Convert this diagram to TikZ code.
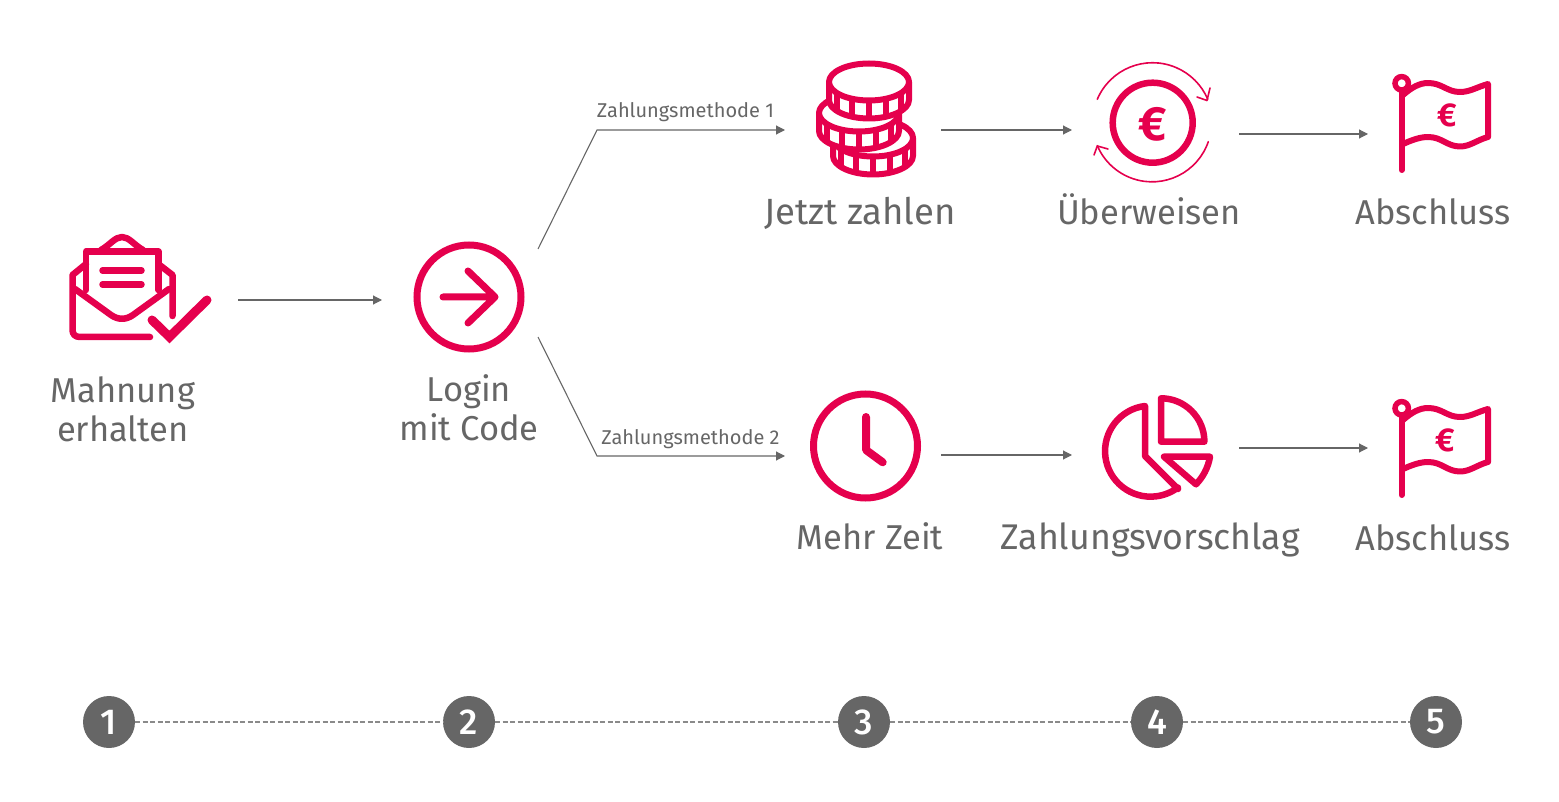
\documentclass[tikz,border=0pt]{standalone}
\usepackage{fontspec}
\setmainfont{Fira Sans}[BoldFont=* Medium]
\newfontfamily\eurofont{Fira Sans}[UprightFont=* Bold]
\usetikzlibrary{arrows.meta}
\definecolor{brandred}{HTML}{E5004D}
\definecolor{txtgray}{HTML}{666666}
\definecolor{dashgray}{HTML}{8A8A8A}
\begin{document}
\begin{tikzpicture}[
  x=1pt, y=-1pt,
  icon/.style={draw=brandred, line width=6.5pt, line cap=round, line join=round},
  thinicon/.style={draw=brandred, line width=1.6pt, line cap=round, line join=round},
  flow/.style={draw=txtgray, line width=1.1pt, -{Triangle[length=9pt,width=9pt]}},
  steplabel/.style={text=txtgray, font=\fontsize{34.5}{39}\selectfont, align=center, inner sep=0pt},
  baselabel/.style={steplabel, anchor=base},
  methodlabel/.style={text=txtgray, font=\fontsize{20}{24}\selectfont, inner sep=0pt, anchor=base},
  eurosign/.style={text=brandred, inner sep=0pt},
  stepnum/.style={circle, fill=txtgray, text=white, minimum size=52pt, inner sep=0pt, font=\bfseries\fontsize{36}{36}\selectfont},
  timeline/.style={draw=dashgray, line width=1.1pt, dash pattern=on 5pt off 2.5pt},
]
  \useasboundingbox (0,0) rectangle (1559,802);

  % envelope
  \draw[icon] (150,337) -- (80,337) .. controls (75,337) and (72.5,334) .. (72.5,330) -- (72.5,275) -- (86,264);
  \draw[icon] (172.5,316) -- (172.5,275) -- (158.3,264);
  \draw[icon] (101,250) .. controls (110,245) and (115,237) .. (122,237) .. controls (129,237) and (134,245) .. (143,250);
  \draw[icon] (86,290) -- (86,251.5) -- (158.3,251.5) -- (158.3,290);
  \draw[icon] (75,289) -- (111,315) .. controls (118,320) and (126,320) .. (133,315) -- (169,289);
  \draw[icon] (102.5,270.5) -- (141.5,270.5) (102.5,284.5) -- (141.5,284.5);
  \draw[draw=brandred, line width=9pt, line cap=round] (152,320) -- (169.5,337) -- (207,300);

  % login
  \node[circle, draw=brandred, line width=7pt, minimum size=104pt, inner sep=0pt] (login) at (469,297) {};
  \draw[icon, line width=7pt] (443,297) -- (495,297) (468,271) -- (495,297) -- (468,323);

  % coins
  \foreach \cx/\cy in {873/138, 859/113, 869/82} {
    \draw[icon, line width=6pt, fill=white] (\cx-40,\cy) -- (\cx-40,\cy+18)
      .. controls (\cx-40,\cy+28) and (\cx-22,\cy+36.5) .. (\cx,\cy+36.5)
      .. controls (\cx+22,\cy+36.5) and (\cx+40,\cy+28) .. (\cx+40,\cy+18) -- (\cx+40,\cy);
    \foreach \a in {38,65,90,115,142}
      \draw[icon, line width=6pt, line cap=butt] ({\cx+40*cos(\a)},{\cy+18.5*sin(\a)}) -- ({\cx+40*cos(\a)},{\cy+18+18.5*sin(\a)});
    \draw[icon, line width=6pt, fill=white] (\cx,\cy) ellipse [x radius=40pt, y radius=18.5pt];
  }

  % euro with arrows
  \node[circle, draw=brandred, line width=6.5pt, minimum size=80pt, inner sep=0pt] (eurocoin) at (1152.7,122.7) {};
  \node[eurosign, font=\eurofont\fontsize{48}{48}\selectfont] (eurotxt) at (1152.5,124) {€};
  \draw[thinicon] (1097.3,99.3) arc [start angle=157, end angle=23, radius=60pt];
  \draw[thinicon] (1197,97) -- (1207,100.5) -- (1210,88);
  \draw[thinicon] (1208.3,141.7) arc [start angle=-19, end angle=-157, radius=59.5pt];
  \draw[thinicon] (1094,155) -- (1097.3,146) -- (1108,149);

  % flags
  \foreach \fy/\ex/\nm in {0/1447/top, 325/1445/bot} {
    \begin{scope}[yshift=-\fy pt]
      \draw[draw=brandred, line width=5.5pt] (1401.7,83.3) circle [radius=6.7pt];
      \draw[icon, line width=6pt] (1401.7,92) -- (1401.7,170);
      \draw[icon, line width=6pt] (1403,95) .. controls (1412,87) and (1420,83) .. (1428,83)
        .. controls (1442,83) and (1447,92) .. (1460,92)
        .. controls (1470,92) and (1477,87) .. (1488,84) -- (1488,137)
        .. controls (1477,140) and (1470,146.5) .. (1460,146.5)
        .. controls (1447,146.5) and (1442,137) .. (1428,137)
        .. controls (1420,137) and (1412,140) .. (1403,144);
    \end{scope}
    \node[eurosign, font=\eurofont\fontsize{33}{33}\selectfont] (euro\nm) at (\ex,115+\fy) {€};
  }

  % clock
  \node[circle, draw=brandred, line width=7pt, minimum size=104pt, inner sep=0pt] (clock) at (865.5,446) {};
  \draw[icon, line width=8pt] (866,417) -- (866,450) -- (882.7,462.3);

  % pie
  \draw[icon] (1178,489) -- (1145,456) -- (1145,406) arc [start angle=97, end angle=307, radius=45.5pt];
  \draw[icon] (1161,441.7) -- (1161,398.3) arc [start angle=90, end angle=0, radius=43.4pt] -- cycle;
  \draw[icon] (1164,456.7) -- (1210,456.7) .. controls (1208,468) and (1203,477) .. (1196,484.3) -- cycle;

  % labels
  \node[steplabel] (lmahnung) at (123,409) {Mahnung\\erhalten};
  \node[steplabel] (llogin) at (469,408) {Login\\mit Code};
  \node[baselabel, font=\fontsize{36.5}{39}\selectfont] (ljetzt) at (860,225) {Jetzt zahlen};
  \node[baselabel] (luber) at (1149,225) {Überweisen};
  \node[baselabel] (labs1) at (1433,225) {Abschluss};
  \node[baselabel] (lmehr) at (870,549) {Mehr Zeit};
  \node[baselabel, font=\fontsize{35.7}{39}\selectfont] (lvor) at (1150,549) {Zahlungsvorschlag};
  \node[baselabel] (labs2) at (1433,550) {Abschluss};
  \node[methodlabel] (lmeth1) at (685.5,118) {Zahlungsmethode 1};
  \node[methodlabel] (lmeth2) at (690.5,444) {Zahlungsmethode 2};

  % connectors
  \coordinate (mailout) at (238,300);
  \coordinate (loginin) at (382,300);
  \coordinate (upstart) at (538,249);
  \coordinate (upbend) at (597,130);
  \coordinate (upend) at (785,130);
  \coordinate (downstart) at (538,337);
  \coordinate (downbend) at (597,456);
  \coordinate (downend) at (785,456);
  \coordinate (coinsout) at (941,130);
  \coordinate (euroin) at (1072,130);
  \coordinate (euroout) at (1239,134);
  \coordinate (flagin) at (1368,134);
  \coordinate (clockout) at (941,455);
  \coordinate (piein) at (1072,455);
  \coordinate (pieout) at (1239,448);
  \coordinate (flagtwoin) at (1368,448);
  \draw[flow] (mailout) -- (loginin);
  \draw[flow] (upstart) -- (upbend) -- (upend);
  \draw[flow] (downstart) -- (downbend) -- (downend);
  \draw[flow] (coinsout) -- (euroin);
  \draw[flow] (euroout) -- (flagin);
  \draw[flow] (clockout) -- (piein);
  \draw[flow] (pieout) -- (flagtwoin);

  % steps
  \node[stepnum] (s1) at (109,722) {1};
  \node[stepnum] (s2) at (469,722) {2};
  \node[stepnum] (s3) at (864,722) {3};
  \node[stepnum] (s4) at (1157,722) {4};
  \node[stepnum] (s5) at (1436,722) {5};
  \draw[timeline] (s1) -- (s2);
  \draw[timeline] (s2) -- (s3);
  \draw[timeline] (s3) -- (s4);
  \draw[timeline] (s4) -- (s5);
\end{tikzpicture}
\end{document}
